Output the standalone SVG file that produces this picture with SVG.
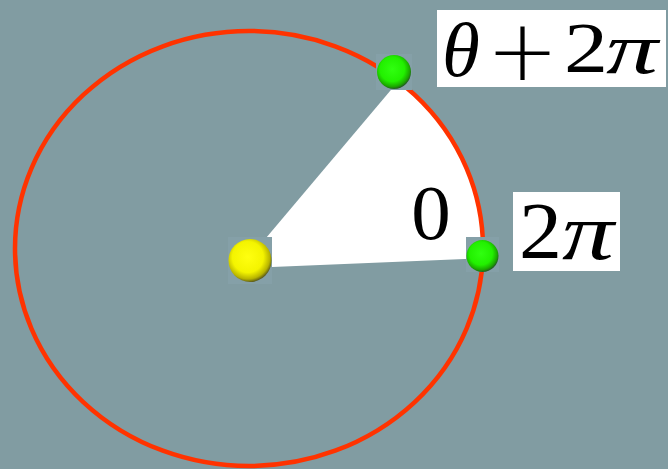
<svg xmlns="http://www.w3.org/2000/svg" width="668" height="469" viewBox="0 0 668 469">
  <defs>
    <radialGradient id="gYellow" cx="0.45" cy="0.42" r="0.6">
      <stop offset="0" stop-color="#ffff10"/>
      <stop offset="0.6" stop-color="#f4f400"/>
      <stop offset="0.85" stop-color="#b8b400"/>
      <stop offset="1" stop-color="#4a4a20"/>
    </radialGradient>
    <radialGradient id="gGreen" cx="0.45" cy="0.42" r="0.6">
      <stop offset="0" stop-color="#30ff10"/>
      <stop offset="0.6" stop-color="#22f000"/>
      <stop offset="0.85" stop-color="#1ba800"/>
      <stop offset="1" stop-color="#244a28"/>
    </radialGradient>
    <style>
      .bg { fill: #819ca2; }
      .sq { fill: #85a0a8; }
      .lbl { fill: #ffffff; }
      .tx { font-family: "Liberation Serif", "DejaVu Serif", serif; fill: #000000; }
      .it { font-style: italic; }
      .op { font-family: "DejaVu Sans", "Liberation Sans", sans-serif; font-weight: 200; fill: #000000; }
    </style>
  </defs>
  <rect class="bg" x="0" y="0" width="668" height="469"/>
  <g id="connectors">
    <path id="wedge" d="M240.5 268.3 L398.5 81 A234 217.5 0 0 1 482.8 258.3 Z" fill="#ffffff"/>
    <ellipse id="circle" cx="249" cy="248.5" rx="234" ry="217.5" fill="none" stroke="#ff3300" stroke-width="4.5"/>
  </g>
  <g id="label-zero">
    <text class="tx" x="431" y="239" font-size="79" text-anchor="middle">0</text>
  </g>
  <g id="center">
    <rect class="sq" x="228" y="237" width="44" height="47"/>
    <circle cx="250" cy="260.5" r="21.5" fill="url(#gYellow)"/>
  </g>
  <g id="point-top">
    <rect class="sq" x="376" y="54" width="36" height="36"/>
    <circle cx="394" cy="72" r="17" fill="url(#gGreen)"/>
  </g>
  <g id="point-right">
    <rect class="sq" x="466" y="237" width="33" height="35"/>
    <circle cx="482.5" cy="256" r="16" fill="url(#gGreen)"/>
  </g>
  <g id="label-theta">
    <rect class="lbl" x="437" y="10" width="229" height="77"/>
    <text class="tx it" x="442" y="76" font-size="77">θ</text>
    <text class="op" x="522.5" y="80" font-size="86" text-anchor="middle">+</text>
    <text class="tx" x="564" y="72" font-size="71" textLength="44" lengthAdjust="spacingAndGlyphs">2</text>
    <text class="tx it" x="606" y="73" font-size="72" textLength="52" lengthAdjust="spacingAndGlyphs">π</text>
  </g>
  <g id="label-2pi">
    <rect class="lbl" x="513" y="192" width="107" height="79"/>
    <text class="tx" x="519" y="258" font-size="81" textLength="43" lengthAdjust="spacingAndGlyphs">2</text>
    <text class="tx it" x="562" y="259" font-size="80" textLength="52" lengthAdjust="spacingAndGlyphs">π</text>
  </g>
</svg>
